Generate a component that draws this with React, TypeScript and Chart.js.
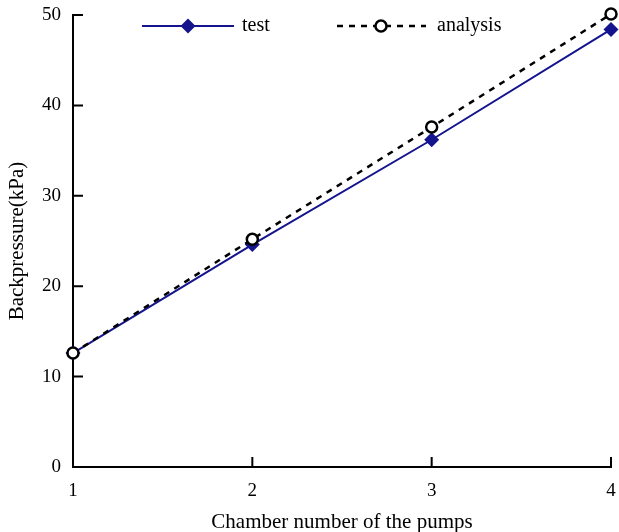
import React, { useEffect, useRef } from "react";
import { Chart, registerables } from "chart.js";

Chart.register(...registerables);

const chambers = [1, 2, 3, 4];
const testValues = [12.6, 24.6, 36.2, 48.4];
const analysisValues = [12.6, 25.2, 37.6, 50.1];
const xTicks = [1, 2, 3, 4];
const yTicks = [0, 10, 20, 30, 40, 50];
const labelTest = "test";
const labelAnalysis = "analysis";
const xTitle = "Chamber number of the pumps";
const yTitle = "Backpressure(kPa)";

const NAVY = "#14148e";
const FONT = "'Liberation Serif', 'Times New Roman', serif";

const innerTicks = {
  id: "innerTicks",
  afterDraw(chart: any) {
    const ctx = chart.ctx;
    const xs = chart.scales.x;
    const ys = chart.scales.y;
    const area = chart.chartArea;
    ctx.save();
    ctx.strokeStyle = "#000";
    ctx.lineWidth = 2;
    ctx.beginPath();
    for (const v of xTicks) {
      const px = xs.getPixelForValue(v);
      ctx.moveTo(px, area.bottom);
      ctx.lineTo(px, area.bottom - 10);
    }
    for (const v of yTicks) {
      const py = ys.getPixelForValue(v);
      ctx.moveTo(area.left, py);
      ctx.lineTo(area.left + 10, py);
    }
    ctx.stroke();
    ctx.restore();
  },
};

const customLegend = {
  id: "customLegend",
  afterDraw(chart: any) {
    const ctx = chart.ctx;
    const y = 26;
    ctx.save();
    // test
    ctx.strokeStyle = NAVY;
    ctx.lineWidth = 2;
    ctx.beginPath();
    ctx.moveTo(142, y);
    ctx.lineTo(234, y);
    ctx.stroke();
    ctx.fillStyle = NAVY;
    ctx.beginPath();
    ctx.moveTo(188, y - 7.5);
    ctx.lineTo(195.5, y);
    ctx.lineTo(188, y + 7.5);
    ctx.lineTo(180.5, y);
    ctx.closePath();
    ctx.fill();
    // analysis
    ctx.strokeStyle = "#000";
    ctx.lineWidth = 2.5;
    ctx.setLineDash([6, 6]);
    ctx.beginPath();
    ctx.moveTo(337, y);
    ctx.lineTo(426, y);
    ctx.stroke();
    ctx.setLineDash([]);
    ctx.fillStyle = "#fff";
    ctx.lineWidth = 2.5;
    ctx.beginPath();
    ctx.arc(381, y, 5.5, 0, Math.PI * 2);
    ctx.fill();
    ctx.stroke();
    ctx.fillStyle = "#000";
    ctx.font = `20px ${FONT}`;
    ctx.textBaseline = "middle";
    ctx.textAlign = "left";
    ctx.fillText(labelTest, 242, y);
    ctx.fillText(labelAnalysis, 437, y);
    ctx.restore();
  },
};

export default function App() {
  const ref = useRef<HTMLCanvasElement | null>(null);
  useEffect(() => {
    if (!ref.current) return;
    const chart = new Chart(ref.current, {
      type: "line",
      data: {
        datasets: [
          {
            label: labelTest,
            data: chambers.map((c, i) => ({ x: c, y: testValues[i] })),
            borderColor: NAVY,
            backgroundColor: NAVY,
            borderWidth: 2,
            pointStyle: "rectRot",
            pointRadius: 7.5,
            pointBorderWidth: 0,
            pointBackgroundColor: NAVY,
            tension: 0,
            clip: false as any,
            order: 1,
          },
          {
            label: labelAnalysis,
            data: chambers.map((c, i) => ({ x: c, y: analysisValues[i] })),
            borderColor: "#000",
            borderWidth: 2.5,
            borderDash: [6, 6],
            pointStyle: "circle",
            pointRadius: 5.5,
            pointBorderWidth: 2.5,
            pointBorderColor: "#000",
            pointBackgroundColor: "#fff",
            tension: 0,
            clip: false as any,
            order: 0,
          },
        ],
      },
      options: {
        animation: false,
        responsive: false,
        layout: { padding: { top: 15, right: 7, left: 0, bottom: 0 } },
        plugins: { legend: { display: false }, tooltip: { enabled: false } },
        scales: {
          x: {
            type: "linear",
            min: 1,
            max: 4,
            afterBuildTicks: (s: any) => {
              s.ticks = xTicks.map((v) => ({ value: v }));
            },
            afterFit: (s: any) => {
              s.height = 65;
              s.paddingLeft = 0;
              s.paddingRight = 0;
            },
            grid: { display: false, drawTicks: false },
            border: { display: true, color: "#000", width: 2 },
            ticks: {
              color: "#000",
              font: { family: FONT, size: 19 },
              padding: 13,
              maxRotation: 0,
            },
            title: {
              display: true,
              text: xTitle,
              color: "#000",
              font: { family: FONT, size: 21 },
              padding: { top: 4, bottom: -3 },
            },
          },
          y: {
            type: "linear",
            min: 0,
            max: 50,
            afterBuildTicks: (s: any) => {
              s.ticks = yTicks.map((v) => ({ value: v }));
            },
            afterFit: (s: any) => {
              s.width = 73;
              s.paddingTop = 0;
              s.paddingBottom = 0;
            },
            grid: { display: false, drawTicks: false },
            border: { display: true, color: "#000", width: 2 },
            ticks: {
              color: "#000",
              font: { family: FONT, size: 19 },
              padding: 12,
            },
            title: {
              display: true,
              text: yTitle,
              color: "#000",
              font: { family: FONT, size: 21 },
              padding: { top: 5, bottom: 0 },
            },
          },
        },
      },
      plugins: [innerTicks, customLegend],
    });
    return () => chart.destroy();
  }, []);
  return (
    <div style={{ position: "fixed", left: 0, top: 0, width: 619, height: 532, background: "#fff" }}>
      <canvas ref={ref} width={619} height={532} style={{ width: 619, height: 532 }} />
    </div>
  );
}
